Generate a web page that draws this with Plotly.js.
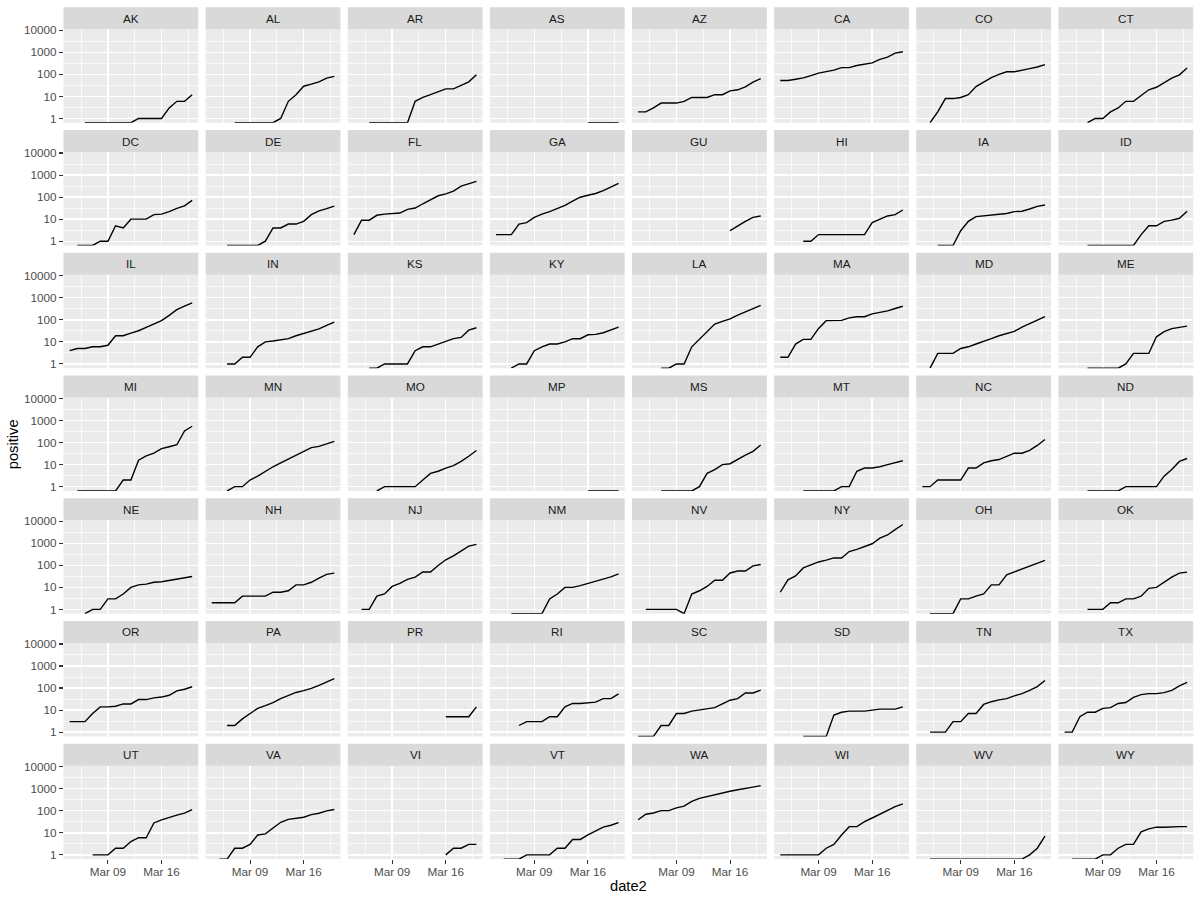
<!DOCTYPE html>
<html>
<head>
<meta charset="utf-8">
<script src="https://cdn.plot.ly/plotly-3.0.1.min.js"></script>
<style>html,body{margin:0;padding:0;background:#fff;}#chart{width:1200px;height:900px;}</style>
</head>
<body>
<div id="chart"></div>
<script>
const N = null;
const dates = ['2020-03-04','2020-03-05','2020-03-06','2020-03-07','2020-03-08','2020-03-09','2020-03-10','2020-03-11','2020-03-12','2020-03-13','2020-03-14','2020-03-15','2020-03-16','2020-03-17','2020-03-18','2020-03-19','2020-03-20'];
const states = ['AK','AL','AR','AS','AZ','CA','CO','CT','DC','DE','FL','GA','GU','HI','IA','ID','IL','IN','KS','KY','LA','MA','MD','ME','MI','MN','MO','MP','MS','MT','NC','ND','NE','NH','NJ','NM','NV','NY','OH','OK','OR','PA','PR','RI','SC','SD','TN','TX','UT','VA','VI','VT','WA','WI','WV','WY'];
const xTickVals = ['2020-03-09','2020-03-16'];
const xTickText = ['Mar 09','Mar 16'];
const yTickVals = [1,10,100,1000,10000];
const yTickText = ['1','10','100','1000','10000'];

const AK = [N,N,0,0,0,0,0,0,0,1,1,1,1,3,6,6,12];
const AL = [N,N,N,0,0,0,0,0,0,1,6,12,29,36,46,68,81];
const AR = [N,N,0,0,0,0,0,0,6,9,12,16,22,22,33,46,96];
const AS = [N,N,N,N,N,N,N,N,N,N,N,N,0,0,0,0,0];
const AZ = [2,2,3,5,5,5,6,9,9,9,12,12,18,20,27,45,65];
const CA = [53,53,60,69,88,114,133,157,202,202,252,293,335,483,611,924,1063];
const CO = [N,0,2,8,8,9,12,28,44,72,101,131,131,160,183,216,277];
const CT = [N,N,N,0,1,1,2,3,6,6,11,20,26,41,68,96,194];
const DC = [N,0,0,0,1,1,5,4,10,10,10,16,17,22,31,40,71];
const DE = [N,N,0,0,0,0,0,1,4,4,6,6,8,16,24,30,39];
const FL = [2,9,9,15,17,18,19,28,32,50,77,115,140,186,314,390,520];
const GA = [2,2,2,6,7,12,17,22,31,42,66,99,121,146,197,287,420];
const GU = [N,N,N,N,N,N,N,N,N,N,N,N,3,5,8,12,14];
const HI = [N,N,N,1,1,2,2,2,2,2,2,2,7,10,14,16,26];
const IA = [N,N,0,0,0,3,8,13,14,16,17,18,22,23,29,38,44];
const ID = [N,N,N,0,0,0,0,0,0,0,2,5,5,8,9,11,23];
const IL = [4,5,5,6,6,7,19,19,25,32,46,64,93,160,288,422,585];
const IN = [N,N,1,1,2,2,6,10,11,12,14,19,24,30,39,56,79];
const KS = [N,N,0,0,1,1,1,1,4,6,6,8,11,14,16,34,44];
const KY = [N,N,0,1,1,4,6,8,8,10,14,14,21,22,26,35,47];
const LA = [N,N,N,0,0,1,1,6,13,28,64,86,110,165,235,322,458];
const MA = [2,2,8,13,13,41,92,92,95,123,138,138,186,218,256,328,413];
const MD = [N,0,3,3,3,5,6,8,11,14,19,24,30,47,67,92,139];
const ME = [N,N,N,0,0,0,0,0,1,3,3,3,17,29,40,47,52];
const MI = [N,0,0,0,0,0,0,2,2,16,25,33,53,65,80,334,549];
const MN = [N,N,0,1,1,2,3,5,8,12,18,28,42,59,67,85,113];
const MO = [N,N,N,0,1,1,1,1,1,2,4,5,7,9,14,24,44];
const MP = [N,N,N,N,N,N,N,N,N,N,N,N,0,0,0,0,0];
const MS = [N,N,N,0,0,0,0,0,1,4,6,10,11,18,27,40,78];
const MT = [N,N,N,0,0,0,0,0,1,1,5,7,7,8,10,12,15];
const NC = [1,1,2,2,2,2,7,7,12,15,17,24,33,33,44,74,137];
const ND = [N,N,N,0,0,0,0,0,1,1,1,1,1,3,6,14,19];
const NE = [N,N,0,1,1,3,3,5,10,13,14,17,18,21,24,27,31];
const NH = [2,2,2,2,4,4,4,4,6,6,7,13,13,17,26,39,44];
const NJ = [N,1,1,4,5,11,15,23,29,50,50,98,178,267,427,742,890];
const NM = [N,N,0,0,0,0,0,3,5,10,10,12,15,19,23,30,41];
const NV = [N,1,1,1,1,1,0,5,7,11,21,21,45,55,55,95,109];
const NY = [6,22,33,76,105,142,173,216,216,421,524,729,950,1700,2382,4152,7102];
const OH = [N,0,0,0,0,3,3,4,5,13,13,37,50,67,88,119,169];
const OK = [N,N,N,1,1,1,2,2,3,3,4,9,10,17,29,44,49];
const OR = [3,3,3,7,14,14,15,19,19,30,30,36,39,47,75,88,114];
const PA = [N,N,2,2,4,7,12,16,22,33,47,63,76,96,133,185,268];
const PR = [N,N,N,N,N,N,N,N,N,N,N,N,5,5,5,5,14];
const RI = [N,N,N,2,3,3,3,5,5,14,20,20,21,23,33,33,54];
const SC = [0,0,0,2,2,7,7,9,10,12,13,19,28,33,60,60,81];
const SD = [N,N,N,0,0,0,0,6,8,9,9,9,10,11,11,11,14];
const TN = [N,1,1,1,3,3,7,7,18,24,29,33,44,56,79,117,220];
const TX = [1,1,5,8,8,12,13,20,22,38,50,56,56,62,79,126,180];
const UT = [N,N,N,1,1,1,2,2,4,6,6,28,39,51,63,78,112];
const VA = [N,0,0,2,2,3,8,9,17,30,41,45,51,67,77,99,114];
const VI = [N,N,N,N,N,N,N,N,N,N,N,N,1,2,2,3,3];
const VT = [N,0,0,0,1,1,1,1,2,2,5,5,8,12,18,22,29];
const WA = [39,70,79,102,102,136,162,267,366,442,568,642,769,904,1012,1187,1376];
const WI = [1,1,1,1,1,1,2,3,8,19,19,32,47,72,106,155,206];
const WV = [N,0,0,0,0,0,0,0,0,0,0,0,0,0,1,2,7];
const WY = [N,0,0,0,0,1,1,2,3,3,11,15,18,18,19,19,19];

const series = {AK,AL,AR,AS,AZ,CA,CO,CT,DC,DE,FL,GA,GU,HI,IA,ID,IL,IN,KS,KY,LA,MA,MD,ME,MI,MN,MO,MP,MS,MT,NC,ND,NE,NH,NJ,NM,NV,NY,OH,OK,OR,PA,PR,RI,SC,SD,TN,TX,UT,VA,VI,VT,WA,WI,WV,WY};

// geometry (pixels)
const W = 1200, H = 900;
const NCOL = 8;
const left0 = 63.5, panelW = 134.8, gapX = 7.33;
const top0 = 7.33, stripH = 22, panelH = 93.4, gapY = 7.33;
const rowStride = stripH + panelH + gapY;
const colStride = panelW + gapX;

// log y range as ggplot: data 0..log10(max) expanded 5%
const yRange = [-0.1926, 4.0439];
const yFloor = Math.pow(10, yRange[0]); // zeros (-Inf on log scale) sit on panel edge
const xRange = ['2020-03-03 04:48', '2020-03-20 19:12'];
const xMinor = ['2020-03-02 12:00','2020-03-05 12:00','2020-03-12 12:00','2020-03-19 12:00'];
const yMinor = [Math.pow(10,0.5), Math.pow(10,1.5), Math.pow(10,2.5), Math.pow(10,3.5)];

const FONT = 'Liberation Sans, Arial, Helvetica, sans-serif';
const traces = [];
const layout = {
  width: W, height: H,
  margin: {l:0, r:0, t:0, b:0},
  paper_bgcolor: '#FFFFFF',
  plot_bgcolor: '#EBEBEB',
  showlegend: false,
  font: {family: FONT, size: 11.7, color: '#4D4D4D'},
  shapes: [],
  annotations: []
};

states.forEach((st, k) => {
  const r = Math.floor(k / NCOL), c = k % NCOL;
  const x0 = left0 + c * colStride, x1 = x0 + panelW;
  const sTop = top0 + r * rowStride;
  const pTop = sTop + stripH, pBot = pTop + panelH;
  const sfx = k === 0 ? '' : String(k + 1);
  const vals = series[st];
  traces.push({
    type: 'scatter', mode: 'lines',
    x: dates,
    y: vals.map(v => v === null ? null : (v <= 0 ? yFloor : v)),
    xaxis: 'x' + sfx, yaxis: 'y' + sfx,
    line: {color: '#000000', width: 1.4},
    connectgaps: false,
    hoverinfo: 'skip'
  });
  const bottomRow = r === 6, firstCol = c === 0;
  layout['xaxis' + sfx] = {
    type: 'date', domain: [x0 / W, x1 / W], anchor: 'y' + sfx,
    range: xRange, tickmode: 'array', tickvals: xTickVals, ticktext: xTickText,
    showticklabels: bottomRow, ticks: bottomRow ? 'outside' : '',
    ticklen: 3.7, tickwidth: 1.1, tickcolor: '#333333', ticklabelstandoff: -2,
    tickfont: {family: FONT, size: 11.7, color: '#4D4D4D'},
    showgrid: true, gridcolor: '#FFFFFF', gridwidth: 1.4,
    minor: {tickmode: 'array', tickvals: xMinor, showgrid: true, gridcolor: '#FFFFFF', gridwidth: 0.7, ticks: ''},
    zeroline: false, showline: false, fixedrange: true, automargin: false
  };
  layout['yaxis' + sfx] = {
    type: 'log', domain: [1 - pBot / H, 1 - pTop / H], anchor: 'x' + sfx,
    range: yRange, tickmode: 'array', tickvals: yTickVals, ticktext: yTickText,
    showticklabels: firstCol, ticks: firstCol ? 'outside' : '',
    ticklen: 3.7, tickwidth: 1.1, tickcolor: '#333333',
    tickfont: {family: FONT, size: 11.7, color: '#4D4D4D'},
    showgrid: true, gridcolor: '#FFFFFF', gridwidth: 1.4,
    minor: {tickmode: 'array', tickvals: yMinor, showgrid: true, gridcolor: '#FFFFFF', gridwidth: 0.7, ticks: ''},
    zeroline: false, showline: false, fixedrange: true, automargin: false
  };
  layout.shapes.push({
    type: 'rect', xref: 'paper', yref: 'paper', layer: 'below',
    x0: x0 / W, x1: x1 / W, y0: 1 - pTop / H, y1: 1 - sTop / H,
    fillcolor: '#D9D9D9', line: {width: 0}
  });
  layout.annotations.push({
    xref: 'paper', yref: 'paper', x: (x0 + x1) / 2 / W, y: 1 - (sTop + stripH / 2) / H,
    xanchor: 'center', yanchor: 'middle', showarrow: false, text: st,
    font: {family: FONT, size: 11.7, color: '#1A1A1A'}
  });
});

const plotLeft = left0, plotRight = left0 + 7 * colStride + panelW;
const plotTop = top0 + stripH, plotBottom = top0 + 6 * rowStride + stripH + panelH;
layout.annotations.push({
  xref: 'paper', yref: 'paper', x: (plotLeft + plotRight) / 2 / W, y: 1 - 886 / H,
  xanchor: 'center', yanchor: 'middle', showarrow: false, text: 'date2',
  font: {family: FONT, size: 14.7, color: '#000000'}
});
layout.annotations.push({
  xref: 'paper', yref: 'paper', x: 13 / W, y: 1 - (plotTop + plotBottom) / 2 / H,
  xanchor: 'center', yanchor: 'middle', showarrow: false, text: 'positive', textangle: -90,
  font: {family: FONT, size: 14.7, color: '#000000'}
});

Plotly.newPlot('chart', traces, layout, {displayModeBar: false, staticPlot: true});
</script>
</body>
</html>
